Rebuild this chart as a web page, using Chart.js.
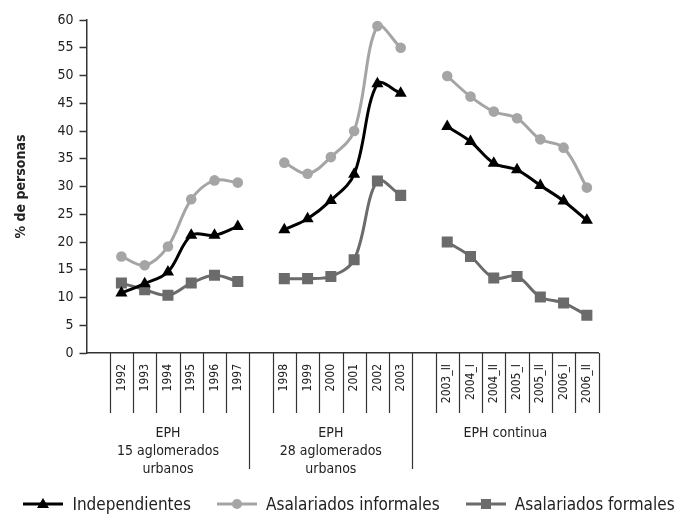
<!DOCTYPE html>
<html>
<head>
<meta charset="utf-8">
<title>% de personas</title>
<script src="https://cdn.jsdelivr.net/npm/chart.js@4.4.1/dist/chart.umd.min.js"></script>
<style>
    body { margin: 0; background: #fff; }
    #contenedor { position: relative; width: 686px; height: 514px; }
    #leyenda {
        position: absolute; left: 6px; top: 494px; width: 686px; height: 20px;
        display: flex; justify-content: center; align-items: center;
        font-family: 'DejaVu Sans Condensed', 'DejaVu Sans', sans-serif;
        font-size: 17px; line-height: 20px; color: #222; white-space: nowrap;
    }
    #leyenda .item { display: flex; align-items: center; margin: 0 13px; }
    #leyenda canvas { margin-right: 9px; }
</style>
</head>
<body>
<div id="contenedor">
    <canvas id="grafica" width="686" height="514"></canvas>
    <div id="leyenda"></div>
</div>
<script>
//CATEGORIAS DEL EJE X (LAS VACIAS SEPARAN LAS TRES ENCUESTAS)
var categorias = ["", "1992", "1993", "1994", "1995", "1996", "1997",
    "", "1998", "1999", "2000", "2001", "2002", "2003",
    "", "2003_II", "2004_I", "2004_II", "2005_I", "2005_II", "2006_I", "2006_II"];

//SERIES (% DE PERSONAS)
var independientes = [null, 10.8, 12.5, 14.6, 21.2, 21.2, 22.8,
    null, 22.2, 24.2, 27.5, 32.2, 48.5, 46.8,
    null, 40.8, 38.1, 34.2, 33.0, 30.2, 27.4, 23.9];
var informales = [null, 17.4, 15.8, 19.2, 27.7, 31.1, 30.7,
    null, 34.3, 32.3, 35.3, 40.0, 58.9, 55.0,
    null, 49.9, 46.2, 43.5, 42.3, 38.5, 37.0, 29.8];
var formales = [null, 12.6, 11.4, 10.4, 12.6, 14.0, 12.9,
    null, 13.4, 13.4, 13.8, 16.8, 31.0, 28.4,
    null, 20.0, 17.4, 13.5, 13.8, 10.1, 9.0, 6.8];

//MARCAS DEL EJE Y
var ticksY = [0, 5, 10, 15, 20, 25, 30, 35, 40, 45, 50, 55, 60];

//GRUPOS DEBAJO DEL EJE X
var grupos = [["EPH", "15 aglomerados", "urbanos"], ["EPH", "28 aglomerados", "urbanos"], ["EPH continua"]];
var gruposInicio = [0, 7, 14];
var gruposFin = [6, 13, 21];

var FUENTE = "'DejaVu Sans Condensed', 'DejaVu Sans', sans-serif";
var TEXTO = "#222";
Chart.defaults.font.family = FUENTE;
Chart.defaults.color = TEXTO;

var nombres = ["Independientes", "Asalariados informales", "Asalariados formales"];
var colores = ["#000000", "#a5a5a5", "#6b6b6b"];
var formas = ["triangle", "circle", "rect"];

//CREA EL ICONO DE LA LEYENDA (LINEA + MARCADOR)
function iconoLeyenda(color, forma) {
    var c = document.createElement("canvas");
    c.width = 40;
    c.height = 14;
    var ctx = c.getContext("2d");
    ctx.strokeStyle = color;
    ctx.lineWidth = 3;
    ctx.beginPath();
    ctx.moveTo(0, 7);
    ctx.lineTo(40, 7);
    ctx.stroke();
    ctx.fillStyle = color;
    ctx.beginPath();
    if (forma == "triangle") {
        ctx.moveTo(20, 1);
        ctx.lineTo(26, 11);
        ctx.lineTo(14, 11);
    } else if (forma == "circle") {
        ctx.arc(20, 7, 5, 0, Math.PI * 2);
    } else {
        ctx.rect(15, 2, 10, 10);
    }
    ctx.fill();
    return c;
}

//ARMA LA LEYENDA
var leyenda = document.getElementById("leyenda");
for (var k = 0; k < nombres.length; k++) {
    var item = document.createElement("div");
    item.className = "item";
    item.appendChild(iconoLeyenda(colores[k], formas[k]));
    item.appendChild(document.createTextNode(nombres[k]));
    leyenda.appendChild(item);
}

//DIBUJA LAS DIVISIONES Y LOS NOMBRES DE LOS GRUPOS DEBAJO DEL EJE X
var divisiones = {
    id: "divisiones",
    afterDraw: function (chart) {
        var ctx = chart.ctx;
        var x = chart.scales.x;
        var y0 = x.top;
        var paso = x.getPixelForValue(1) - x.getPixelForValue(0);

        ctx.save();
        ctx.strokeStyle = "#333";
        ctx.lineWidth = 1.2;
        for (var i = 1; i <= categorias.length; i++) {
            var px = x.getPixelForValue(i - 1) + paso / 2;
            var largo = categorias[i] === "" ? 116 : 60;
            ctx.beginPath();
            ctx.moveTo(Math.round(px) + 0.5, y0);
            ctx.lineTo(Math.round(px) + 0.5, y0 + largo);
            ctx.stroke();
        }

        ctx.fillStyle = TEXTO;
        ctx.font = "14px " + FUENTE;
        ctx.textAlign = "center";
        ctx.textBaseline = "middle";
        for (var g = 0; g < grupos.length; g++) {
            var centro = (x.getPixelForValue(gruposInicio[g]) + x.getPixelForValue(gruposFin[g])) / 2;
            for (var l = 0; l < grupos[g].length; l++) {
                ctx.fillText(grupos[g][l], centro, y0 + 80 + l * 18.3);
            }
        }
        ctx.restore();
    }
};

var serie = function (i, datos, radio) {
    return {
        label: nombres[i],
        data: datos,
        borderColor: colores[i],
        backgroundColor: colores[i],
        borderWidth: 3,
        tension: 0.35,
        spanGaps: false,
        pointStyle: formas[i],
        pointRadius: radio,
        pointHoverRadius: radio,
        pointBackgroundColor: colores[i],
        pointBorderWidth: 0
    };
};

var ctxGrafica = document.getElementById("grafica").getContext("2d");
new Chart(ctxGrafica, {
    type: "line",
    data: {
        labels: categorias,
        datasets: [
            serie(0, independientes, 7),
            serie(1, informales, 5.3),
            serie(2, formales, 7.8)
        ]
    },
    options: {
        responsive: false,
        animation: false,
        layout: { padding: { top: 20, left: 0, right: 87.5, bottom: 0 } },
        plugins: {
            tooltip: { enabled: false },
            legend: { display: false }
        },
        scales: {
            x: {
                offset: true,
                grid: { display: false },
                border: { display: true, color: "#333", width: 1.5 },
                ticks: {
                    font: { size: 12 },
                    color: TEXTO,
                    minRotation: 90,
                    maxRotation: 90,
                    autoSkip: false,
                    padding: 3
                },
                afterFit: function (s) { s.height = 161; }
            },
            y: {
                min: 0,
                max: 60,
                afterBuildTicks: function (s) { s.ticks = ticksY.map(function (v) { return { value: v }; }); },
                grid: { drawOnChartArea: false, drawTicks: true, tickLength: 7, tickColor: "#333", tickWidth: 1.5 },
                border: { display: true, color: "#333", width: 1.5 },
                ticks: { font: { size: 14 }, color: TEXTO, padding: 6 },
                title: { display: true, text: "% de personas", font: { size: 14, weight: "bold" }, color: TEXTO, padding: { top: 13, bottom: 0 } },
                afterFit: function (s) { s.width = 86.5; }
            }
        }
    },
    plugins: [divisiones]
});
</script>
</body>
</html>
